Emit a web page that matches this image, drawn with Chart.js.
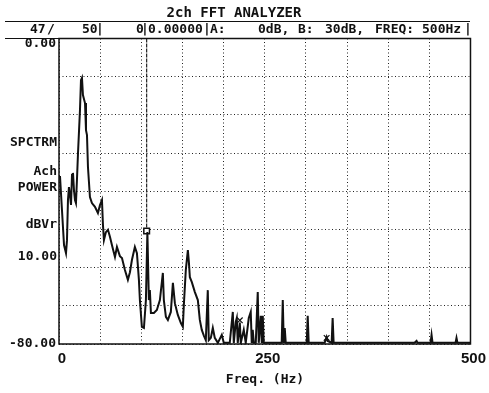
<!doctype html>
<html>
<head>
<meta charset="utf-8">
<title>2ch FFT ANALYZER</title>
<script src="https://cdn.jsdelivr.net/npm/chart.js@4"></script>
<style>html,body{margin:0;padding:0;background:#fff}#wrap{width:489px;height:393px}</style>
</head>
<body>
<div id="wrap"><canvas id="chart" width="489" height="393"></canvas></div>
<script>
// spectrum trace (Hz, dBVr)
const freqHz = [1.2, 3.6, 6.1, 8.5, 9.7, 10.9, 12.1, 13.3, 14.6, 15.8, 17.0, 18.2, 19.4, 20.6, 21.8, 23.1,
  25.5, 26.7, 27.9, 29.1, 31.6, 32.8, 34.0, 35.2, 37.6, 40.0, 43.7, 47.3, 49.8, 52.2, 53.4, 54.6, 57.0,
  59.5, 61.9, 64.3, 68.0, 70.4, 74.0, 76.5, 80.1, 83.7, 86.2, 88.6, 92.2, 94.7, 97.1, 98.3, 100.7, 103.2,
  105.6, 107.4, 109.2, 110.4, 111.7, 115.3, 118.9, 122.6, 126.2, 127.4, 129.9, 132.3, 135.9, 138.4, 140.8,
  144.4, 148.1, 150.5, 151.7, 154.1, 156.6, 157.8, 159.0, 161.4, 165.1, 168.7, 171.1, 173.5, 176.0, 178.4,
  180.8, 182.0, 184.5, 186.9, 189.3, 193.0, 197.8, 200.2, 207.5, 211.2, 212.4, 214.8, 216.0, 217.2, 219.7,
  220.9, 224.5, 226.9, 230.6, 233.0, 234.2, 235.4, 236.7, 239.1, 241.5, 242.7, 245.2, 246.4, 247.6, 248.8,
  270.6, 271.9, 273.1, 274.3, 275.5, 301.0, 302.2, 303.4, 322.8, 325.2, 326.5, 331.3, 332.5, 333.7, 432.0,
  434.5, 435.7, 451.5, 452.7, 453.9, 481.8, 483.0, 484.2, 500];
const levelDb = [-36.0, -44.9, -54.1, -56.2, -52.8, -42.3, -38.9, -41.0, -43.6, -35.7, -35.2, -39.7, -42.3, -43.1, -37.1, -30.0,
  -18.7, -10.9, -10.3, -14.8, -16.9, -24.0, -25.3, -33.7, -41.5, -43.1, -44.1, -45.7, -43.6, -42.3, -48.8, -52.8, -50.7,
  -50.1, -51.9, -54.1, -57.2, -54.6, -57.0, -57.5, -60.6, -63.2, -61.2, -58.0, -54.6, -56.2, -63.2, -68.5, -75.5, -75.8,
  -68.5, -50.7, -68.5, -65.9, -71.9, -71.9, -71.1, -68.5, -61.4, -68.5, -72.9, -73.7, -71.6, -64.0, -69.3,
  -72.4, -74.5, -75.5, -69.8, -60.6, -55.4, -58.5, -62.5, -63.8, -66.4, -68.5, -73.7, -76.3, -77.8, -79.0,
  -65.9, -79.0, -78.4, -75.8, -78.4, -79.7, -77.6, -79.7, -79.7, -71.6, -79.7, -74.2, -73.2, -79.7, -74.4,
  -79.7, -76.3, -79.7, -73.2, -71.6, -79.7, -76.3, -79.7, -79.7, -66.4, -79.7, -72.6, -79.7, -72.6, -79.7,
  -79.7, -68.5, -79.7, -75.8, -79.7, -79.7, -72.6, -79.7, -79.7, -78.2, -79.2, -79.7, -73.2, -79.7, -79.7,
  -79.2, -79.7, -79.7, -77.6, -79.7, -79.7, -78.4, -79.7, -79.7];

// peak marker cursor and the two small cross markers
const markerHz = [106.5, 106.5];
const markerDb = [0, -50.4];
const crossHz = [219.7, 325.2];
const crossDb = [-73.8, -78.4];

const xLabelTicks = [0, 250, 500];
const yLabelTicks = [0, -80];
const yTickLabels = ['0.00', '-80.00'];
const sideLabels = ['SPCTRM', 'Ach', 'POWER', 'dBVr', '10.00'];
const sideLabelY = [143, 172, 188, 225, 257];

const MONO = '"DejaVu Sans Mono", monospace';
const toPts = (xs, ys) => xs.map((x, i) => ({ x, y: ys[i] }));

const decor = {
  id: 'decor',
  afterDraw(chart) {
    const ctx = chart.ctx;
    const a = chart.chartArea;
    const ys = chart.scales.y;
    ctx.save();
    ctx.fillStyle = '#111';
    ctx.strokeStyle = '#111';

    // plot frame
    ctx.lineWidth = 1.5;
    ctx.strokeRect(a.left, a.top, a.right - a.left, a.bottom - a.top);

    // title + status row
    ctx.textBaseline = 'middle';
    ctx.textAlign = 'center';
    ctx.font = 'bold 14px ' + MONO;
    ctx.fillText('2ch FFT ANALYZER', 234, 13);
    ctx.lineWidth = 1.2;
    ctx.beginPath();
    ctx.moveTo(5, 21.5); ctx.lineTo(470, 21.5);
    ctx.moveTo(5, a.top); ctx.lineTo(a.left, a.top);
    ctx.stroke();

    ctx.textAlign = 'left';
    ctx.font = 'bold 13px ' + MONO;
    const row = [['47', 30], ['/', 47], ['50', 82], ['0', 136], ['0.00000', 148],
      ['A:', 210], ['0dB,', 258], ['B:', 298], ['30dB,', 325], ['FREQ:', 375], ['500Hz', 422]];
    row.forEach(([t, x]) => ctx.fillText(t, x, 29.5));
    ctx.textAlign = 'center';
    [100, 145, 207, 468].forEach((x) => ctx.fillText('|', x, 29.5));

    // left side annotations
    ctx.textAlign = 'right';
    ctx.font = 'bold 13px ' + MONO;
    sideLabels.forEach((t, i) => ctx.fillText(t, 57, sideLabelY[i]));
    yLabelTicks.forEach((v, i) => {
      const py = ys.getPixelForValue(v) + (v === 0 ? 5 : 0);
      ctx.fillText(yTickLabels[i], 56, py);
    });

    // x axis title
    ctx.textAlign = 'center';
    ctx.font = 'bold 13px ' + MONO;
    ctx.fillText('Freq. (Hz)', 265, 380);
    ctx.restore();
  }
};

new Chart(document.getElementById('chart'), {
  type: 'line',
  data: {
    datasets: [
      {
        data: toPts(freqHz, levelDb),
        borderColor: '#111',
        borderWidth: 2,
        pointRadius: 0,
        tension: 0
      },
      {
        data: toPts(markerHz, markerDb),
        borderColor: '#222',
        borderWidth: 1.2,
        borderDash: [4, 1],
        pointRadius: [0, 4],
        pointStyle: 'rect',
        pointBackgroundColor: '#fff',
        pointBorderColor: '#111',
        pointBorderWidth: 1.5
      },
      {
        data: toPts(crossHz, crossDb),
        showLine: false,
        pointStyle: 'crossRot',
        pointRadius: 4,
        pointBorderColor: '#111',
        pointBorderWidth: 1.2
      }
    ]
  },
  options: {
    responsive: false,
    animation: false,
    events: [],
    layout: { padding: { left: 0, top: 38.5, right: 18, bottom: 0 } },
    plugins: { legend: { display: false }, tooltip: { enabled: false }, title: { display: false } },
    scales: {
      x: {
        type: 'linear',
        min: 0,
        max: 500,
        afterFit: (s) => { s.height = 49; },
        ticks: {
          stepSize: 50,
          autoSkip: false,
          maxRotation: 0,
          padding: 6,
          labelOffset: 3,
          color: '#111',
          font: { family: '"Liberation Sans", Arial, sans-serif', size: 15, weight: 'bold' },
          callback: (v) => (xLabelTicks.includes(v) ? String(v) : '')
        },
        grid: { color: '#222', lineWidth: 1, drawTicks: false },
        border: { display: false, dash: [1, 2.5] }
      },
      y: {
        min: -80,
        max: 0,
        afterFit: (s) => { s.width = 59; },
        ticks: { stepSize: 10, display: false },
        grid: { color: '#222', lineWidth: 1, drawTicks: false },
        border: { display: false, dash: [1, 2.5] }
      }
    }
  },
  plugins: [decor]
});
</script>
</body>
</html>
